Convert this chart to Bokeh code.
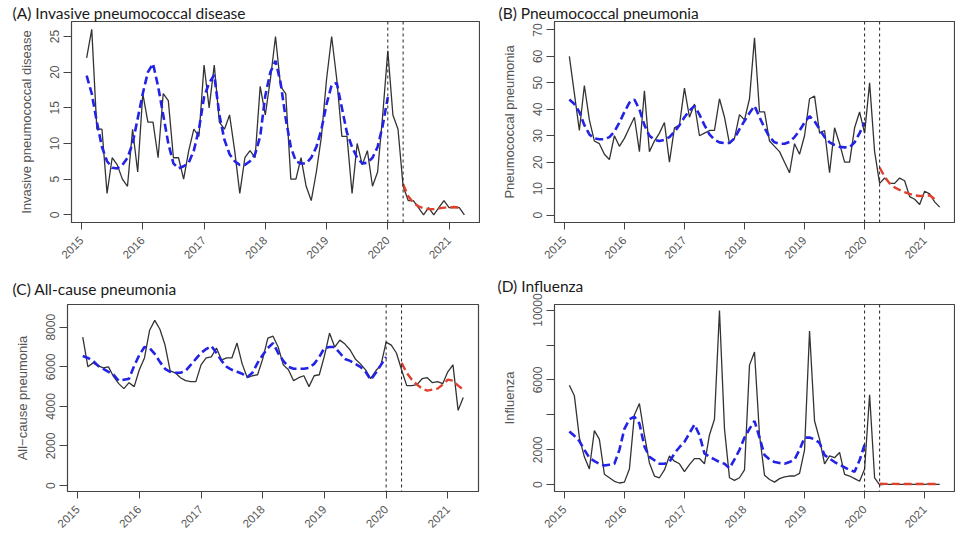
import math
from bokeh.plotting import figure
from bokeh.layouts import column, row
from bokeh.models import FixedTicker, Range1d, Span
from bokeh.embed import file_html
from bokeh.resources import INLINE

# monthly time axis (decimal years), Jan 2015 .. Mar 2021
months = [2015 + i / 12 for i in range(1, 76)]
breaks = [2020.0, 2020.25]
year_ticks = [2015, 2016, 2017, 2018, 2019, 2020, 2021]

# (A) Invasive pneumococcal disease
ipd_obs = [22, 26, 12, 12, 3, 8, 7, 5, 4, 12, 6, 17,
           13, 13, 8, 17, 16, 8, 8, 5, 9, 12, 11, 21,
           15, 21, 13, 12, 14, 9, 3, 8, 9, 8, 18, 14,
           19, 25, 18, 17, 5, 5, 8, 4, 2, 6, 11, 19,
           25, 19, 11, 11, 3, 10, 7, 9, 4, 6, 14, 23,
           14, 12, 4, 2, 2, 1, 0, 1, 0, 1, 2, 1, 1, 1, 0]
ipd_fit = [19.5, 17, 13, 9.5, 7.5, 6.6, 6.5, 7, 8, 10, 13.5, 17,
           20, 21.2, 18, 14, 10, 7.2, 6.5, 6.8, 7.3, 9, 12, 16.5,
           18.5, 19.6, 14, 10.5, 8.5, 7.5, 7, 7, 7.5, 8.5, 11, 16.7,
           20, 21.6, 18.5, 13.5, 9.5, 7.5, 7.2, 7.2, 8, 9.5, 12, 15.5,
           18.2, 18.5, 15, 11.5, 9.5, 8, 7.2, 7.3, 8, 9.5, 12.5, 16.5]
ipd_pred = [4.3, 2.6, 1.7, 1.2, 0.9, 0.8, 0.8, 0.9, 1.0, 1.0, 1.1, 1.0]

# (B) Pneumococcal pneumonia
pp_obs = [60, 46, 32, 49, 36, 28, 27, 23, 21, 30, 26, 29,
          33, 37, 24, 47, 24, 28, 31, 35, 20, 33, 34, 48,
          37, 42, 30, 31, 32, 32, 44, 37, 27, 29, 38, 36,
          44, 67, 39, 39, 28, 26, 24, 20, 16, 27, 23, 30,
          44, 45, 31, 32, 16, 33, 27, 20, 20, 33, 39, 31,
          50, 24, 12, 14, 12, 12, 14, 13, 7, 6, 4, 9, 8, 5, 3]
pp_fit = [43.7, 42, 39, 34, 30.5, 29, 28.7, 28.7, 29.5, 31.5, 35, 39,
          42.5, 43.7, 40, 34, 30, 28.5, 28, 28.5, 29.5, 31.5, 34, 37,
          39.5, 41.3, 38, 34, 30.5, 28.5, 27.5, 27.2, 27.3, 29, 32.5, 35.6,
          38.6, 41.3, 37, 33, 29.5, 27.5, 27, 27, 27.7, 29.5, 32, 35,
          37.4, 35.5, 32.5, 29.5, 27.5, 26.5, 25.8, 25.6, 25.6, 27.5, 31, 35]
pp_pred = [18, 14.5, 12, 10.5, 9.5, 8.7, 8, 7.5, 7.2, 7.3, 7.5, 6]

# (C) All-cause pneumonia
acp_obs = [7500, 6000, 6200, 6050, 5950, 6000, 5500, 5150, 4900, 5200, 5000, 5850,
           6450, 7850, 8350, 7900, 7100, 5800, 5700, 5450, 5300, 5250, 5250, 6100,
           6450, 6500, 6950, 6350, 6450, 6450, 7200, 6150, 5450, 5550, 5600, 6400,
           7450, 7550, 7000, 6100, 5850, 5300, 5450, 5550, 5000, 5550, 5600, 6550,
           7700, 7000, 7350, 7150, 6850, 6400, 6150, 5850, 5400, 5800, 6100, 7250,
           7100, 6700, 5850, 5050, 5050, 5100, 5400, 5450, 5200, 5250, 5150, 5750,
           6100, 3800, 4450]
acp_fit = [6550, 6450, 6300, 6050, 5900, 5750, 5600, 5300, 5350, 5400, 6050, 6600,
           7000, 6950, 6650, 6250, 5900, 5750, 5700, 5700, 5800, 6100, 6400, 6700,
           6900, 7050, 6700, 6300, 6000, 5850, 5750, 5650, 5480, 5700, 6200, 6600,
           6950, 7200, 6700, 6300, 6000, 5900, 5900, 5900, 5950, 6150, 6500, 6950,
           7000, 7000, 6700, 6400, 6300, 6150, 6000, 5750, 5350, 5700, 6100, 6500]
acp_pred = [6200, 5700, 5350, 5100, 4900, 4800, 4850, 4900, 5100, 5350, 5300, 5050, 4850]

# (D) Influenza
flu_obs = [5700, 5100, 2700, 1600, 900, 3100, 2600, 600, 400, 200, 100, 150,
           900, 4000, 4650, 2850, 1250, 500, 400, 850, 1650, 1350, 1200, 750,
           1150, 1500, 1500, 1200, 2850, 3750, 9980, 3200, 400, 250, 400, 850,
           6850, 7600, 2850, 550, 300, 150, 350, 450, 500, 500, 650, 2000,
           8800, 3650, 2600, 1200, 1650, 1550, 1850, 600, 500, 350, 200, 900,
           5150, 400, 0, 20, 20, 20, 20, 20, 20, 20, 20, 20, 50, 20, 20]
flu_fit = [3050, 2800, 2500, 2000, 1550, 1350, 1200, 1100, 1150, 1200, 2000, 3200,
           3750, 3900, 3500, 2200, 1600, 1400, 1200, 1200, 1300, 1800, 2150, 2450,
           2950, 3450, 2850, 1800, 1600, 1450, 1300, 1200, 950, 1450, 2000, 2700,
           3200, 3650, 2700, 1700, 1450, 1300, 1250, 1200, 1300, 1450, 2000, 2700,
           2700, 2600, 2400, 1700, 1500, 1300, 1150, 1000, 850, 750, 1400, 2300]
flu_pred = [60, 50, 50, 50, 45, 45, 45, 45, 45, 45, 45, 45, 45]

GREY = "#555555"


def panel(title, ylabel, obs, fit, pred, yrange, yticks, hide, w, h,
          bl, br, bt, bb, toff, tstand):
    p = figure(width=w, height=h, output_backend="svg", toolbar_location=None,
               x_range=Range1d(2014.836, 2021.497), y_range=Range1d(*yrange),
               min_border_left=bl, min_border_right=br, min_border_top=bt,
               min_border_bottom=bb, title=title)
    p.title.align = "left"
    p.title.offset = toff
    p.title.text_font = "Lato"
    p.title.text_font_size = "15.5px"
    p.title.text_font_style = "normal"
    p.title.text_color = "#1a1a1a"
    p.title.standoff = tstand
    p.background_fill_color = "white"
    p.border_fill_color = "white"
    p.outline_line_color = "#444444"
    p.outline_line_width = 1.2
    p.xgrid.visible = False
    p.ygrid.visible = False

    xa = p.xaxis[0]
    xa.ticker = FixedTicker(ticks=year_ticks)
    xa.major_label_orientation = math.pi / 4
    xa.major_label_text_font = "Liberation Sans"
    xa.major_label_text_font_size = "11.5px"
    xa.major_label_text_color = GREY
    xa.major_tick_out = 7
    xa.major_tick_in = 0
    xa.minor_tick_line_color = None
    xa.axis_line_color = "#444444"
    xa.major_tick_line_color = "#444444"
    xa.major_label_standoff = 9

    ya = p.yaxis[0]
    ya.ticker = FixedTicker(ticks=yticks)
    ya.major_label_overrides = {v: "" for v in hide}
    ya.major_label_orientation = "vertical"
    ya.major_label_text_font = "Liberation Sans"
    ya.major_label_text_font_size = "12px"
    ya.major_label_text_color = GREY
    ya.major_tick_out = 8
    ya.major_tick_in = 0
    ya.minor_tick_line_color = None
    ya.axis_line_color = "#444444"
    ya.major_tick_line_color = "#444444"
    ya.major_label_standoff = 4
    ya.axis_label = ylabel
    ya.axis_label_text_font = "Liberation Sans"
    ya.axis_label_text_font_size = "13px"
    ya.axis_label_text_font_style = "normal"
    ya.axis_label_text_color = GREY
    ya.axis_label_standoff = 14

    p.line(months, obs, line_color="#333333", line_width=1.3)
    p.line(months[:len(fit)], fit, line_color="#2323e6", line_width=2.6,
           line_dash="8 4")
    p.line(months[62:62 + len(pred)], pred, line_color="#e0402e",
           line_width=2.4, line_dash="8 4")
    for b in breaks:
        p.add_layout(Span(location=b, dimension="height", line_color="#222222",
                          line_width=1, line_dash="3 3"))
    return p


pA = panel("(A) Invasive pneumococcal disease", "Invasive pneumococcal disease",
           ipd_obs, ipd_fit, ipd_pred, (-1.08, 27.1), [0, 5, 10, 15, 20, 25], [],
           480, 265, 71, 1, 21, 36, -59, 0)
pB = panel("(B) Pneumococcal pneumonia", "Pneumococcal pneumonia",
           pp_obs, pp_fit, pp_pred, (-2.8, 73.2), [0, 10, 20, 30, 40, 50, 60, 70], [],
           475, 265, 74, 1, 21, 36, -56, 0)
pC = panel("(C) All-cause pneumonia", "All\u2212cause pneumonia",
           acp_obs, acp_fit, acp_pred, (-300, 9150), [0, 2000, 4000, 6000, 8000], [],
           480, 269, 67, 2, 33, 30, -55, 13)
pD = panel("(D) Influenza", "Influenza",
           flu_obs, flu_fit, flu_pred, (-386, 10320), [0, 2000, 4000, 6000, 8000, 10000],
           [4000, 8000], 475, 269, 74, 1, 39, 30, -57, 19)

layout = column(row(pA, pB), row(pC, pD))
open("out.html", "w").write(file_html(layout, INLINE))
